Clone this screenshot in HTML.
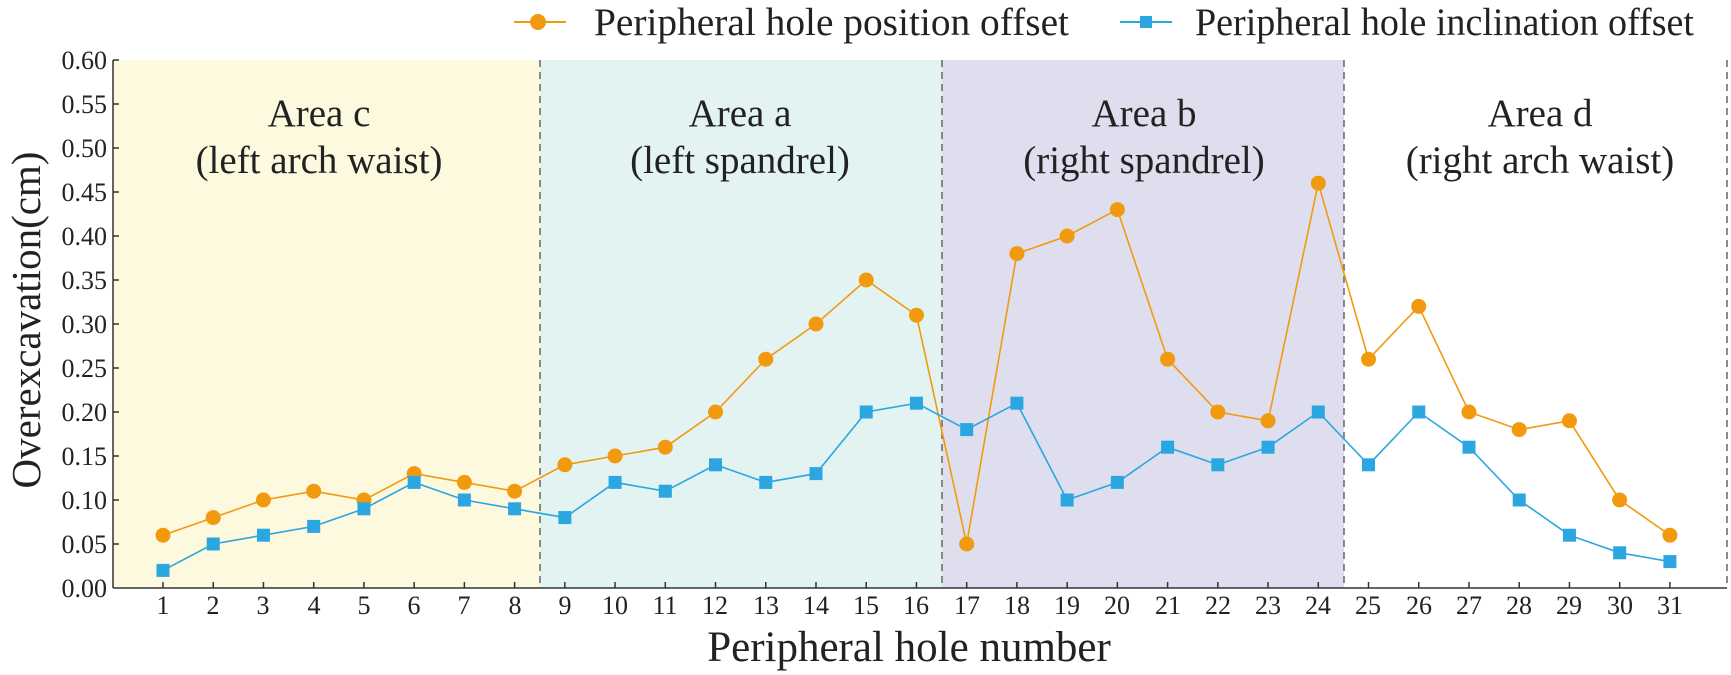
<!DOCTYPE html>
<html><head><meta charset="utf-8"><style>
html,body{margin:0;padding:0;background:#fff;}
svg{display:block;font-family:"Liberation Serif",serif;}
</style></head><body>
<svg id="c" width="1731" height="675" viewBox="0 0 1731 675" xmlns="http://www.w3.org/2000/svg">
<rect x="113" y="60" width="427" height="528" fill="#fdf9de"/>
<rect x="540" y="60" width="402" height="528" fill="#e2f3f2"/>
<rect x="942" y="60" width="402" height="528" fill="#dfdeee"/>
<g stroke="#666" stroke-width="1.5" stroke-dasharray="7,5">
<line x1="540" y1="60" x2="540" y2="588"/>
<line x1="942" y1="60" x2="942" y2="588"/>
<line x1="1344" y1="60" x2="1344" y2="588"/>
<line x1="1727" y1="60" x2="1727" y2="588"/>
</g>
<g font-size="39" fill="#222" text-anchor="middle">
<text x="319" y="126">Area c</text><text x="319" y="173">(left arch waist)</text>
<text x="740" y="126">Area a</text><text x="740" y="173">(left spandrel)</text>
<text x="1144" y="126">Area b</text><text x="1144" y="173">(right spandrel)</text>
<text x="1540" y="126">Area d</text><text x="1540" y="173">(right arch waist)</text>
</g>
<g id="axes" stroke="#333" stroke-width="1.5">
<line x1="113" y1="60" x2="113" y2="588"/>
<line x1="113" y1="588" x2="1727" y2="588"/>
</g>
<g font-size="26" fill="#222" text-anchor="end">
<text x="107" y="597">0.00</text><text x="107" y="553">0.05</text><text x="107" y="509">0.10</text><text x="107" y="465">0.15</text><text x="107" y="421">0.20</text><text x="107" y="377">0.25</text><text x="107" y="333">0.30</text><text x="107" y="289">0.35</text><text x="107" y="245">0.40</text><text x="107" y="201">0.45</text><text x="107" y="157">0.50</text><text x="107" y="113">0.55</text><text x="107" y="69">0.60</text>
</g>
<g id="xt" font-size="26" fill="#222" text-anchor="middle">
<text x="163" y="614">1</text><text x="213" y="614">2</text><text x="263" y="614">3</text><text x="314" y="614">4</text><text x="364" y="614">5</text><text x="414" y="614">6</text><text x="464" y="614">7</text><text x="515" y="614">8</text><text x="565" y="614">9</text><text x="615" y="614">10</text><text x="665" y="614">11</text><text x="715" y="614">12</text><text x="766" y="614">13</text><text x="816" y="614">14</text><text x="866" y="614">15</text><text x="916" y="614">16</text><text x="967" y="614">17</text><text x="1017" y="614">18</text><text x="1067" y="614">19</text><text x="1117" y="614">20</text><text x="1168" y="614">21</text><text x="1218" y="614">22</text><text x="1268" y="614">23</text><text x="1318" y="614">24</text><text x="1368" y="614">25</text><text x="1419" y="614">26</text><text x="1469" y="614">27</text><text x="1519" y="614">28</text><text x="1569" y="614">29</text><text x="1620" y="614">30</text><text x="1670" y="614">31</text>
</g>
<text x="909" y="661" font-size="43" fill="#222" text-anchor="middle">Peripheral hole number</text>
<text transform="translate(40,320) rotate(-90)" font-size="41" fill="#222" text-anchor="middle">Overexcavation(cm)</text>
<line x1="514" y1="22" x2="566" y2="22" stroke="#f29a0f" stroke-width="2"/>
<circle cx="538" cy="22" r="8" fill="#f29a0f"/>
<text x="594" y="35" font-size="39" fill="#222" textLength="475" lengthAdjust="spacingAndGlyphs">Peripheral hole position offset</text>
<line x1="1120" y1="22" x2="1172" y2="22" stroke="#2ba6e0" stroke-width="2"/>
<rect x="1140" y="16" width="12" height="12" fill="#2ba6e0"/>
<text x="1195" y="35" font-size="39" fill="#222" textLength="499" lengthAdjust="spacingAndGlyphs">Peripheral hole inclination offset</text>
<g id="data"></g>
</svg>
<script>
var o=[0.06,0.08,0.10,0.11,0.10,0.13,0.12,0.11,0.14,0.15,0.16,0.20,0.26,0.30,0.35,0.31,0.05,0.38,0.40,0.43,0.26,0.20,0.19,0.46,0.26,0.32,0.20,0.18,0.19,0.10,0.06];
var b=[0.02,0.05,0.06,0.07,0.09,0.12,0.10,0.09,0.08,0.12,0.11,0.14,0.12,0.13,0.20,0.21,0.18,0.21,0.10,0.12,0.16,0.14,0.16,0.20,0.14,0.20,0.16,0.10,0.06,0.04,0.03];
function X(i){return 163+i*50.23;}function Y(v){return 588-v*880;}
var s='';
for(var i=0;i<31;i++){var x=X(i);s+='<line x1="'+x+'" y1="588" x2="'+x+'" y2="582" stroke="#333" stroke-width="1.5"/>';}
for(var k=1;k<=12;k++){var y=588-k*44;s+='<line x1="113" y1="'+y+'" x2="119" y2="'+y+'" stroke="#333" stroke-width="1.5"/>';}
var po=o.map(function(v,i){return X(i)+','+Y(v)}).join(' ');
var pb=b.map(function(v,i){return X(i)+','+Y(v)}).join(' ');
s+='<polyline points="'+po+'" fill="none" stroke="#f29a0f" stroke-width="1.6"/>';
s+='<polyline points="'+pb+'" fill="none" stroke="#2ba6e0" stroke-width="1.6"/>';
for(var i=0;i<31;i++){s+='<circle cx="'+X(i)+'" cy="'+Y(o[i])+'" r="7.5" fill="#f29a0f"/>';}
for(var i=0;i<31;i++){s+='<rect x="'+(X(i)-6.5)+'" y="'+(Y(b[i])-6.5)+'" width="13" height="13" fill="#2ba6e0"/>';}
document.getElementById('data').innerHTML=s;
</script>
</body></html>
